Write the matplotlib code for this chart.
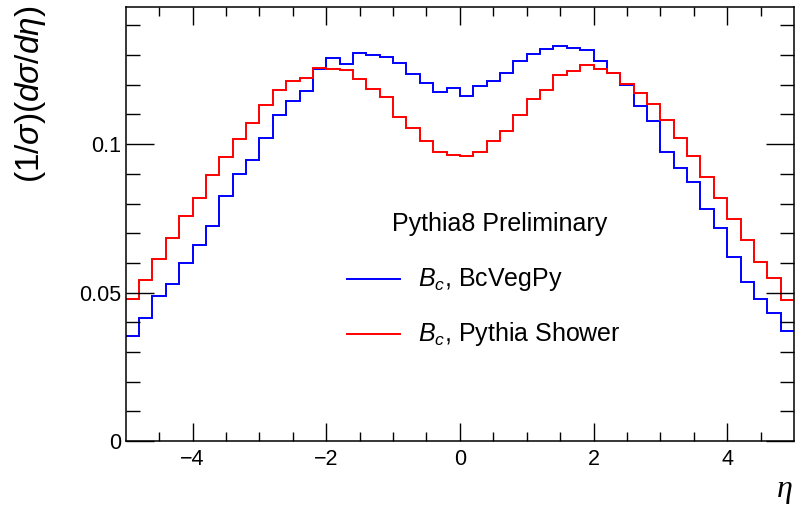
import numpy as np
import matplotlib
matplotlib.use("Agg")
import matplotlib.pyplot as plt

plt.rcParams['font.family'] = ['Liberation Sans', 'DejaVu Sans']
plt.rcParams['mathtext.fontset'] = 'custom'
plt.rcParams['mathtext.rm'] = 'Liberation Sans'
plt.rcParams['mathtext.it'] = 'Liberation Sans:italic'
plt.rcParams['mathtext.bf'] = 'Liberation Sans:bold'

# Binning: 50 bins of width 0.2 from -5 to 5
eta_min, eta_max, n_bins = -5.0, 5.0, 50
eta_edges = np.linspace(eta_min, eta_max, n_bins + 1)

bcvegpy = [0.0355, 0.0414, 0.0488, 0.0528, 0.0600, 0.0662, 0.0725, 0.0825, 0.0901, 0.0946,
           0.1021, 0.1097, 0.1144, 0.1179, 0.1252, 0.1289, 0.1271, 0.1307, 0.1302, 0.1293,
           0.1274, 0.1237, 0.1207, 0.1177, 0.1190, 0.1163, 0.1197, 0.1213, 0.1241, 0.1279,
           0.1303, 0.1319, 0.1332, 0.1325, 0.1318, 0.1281, 0.1240, 0.1199, 0.1129, 0.1078,
           0.0973, 0.0919, 0.0872, 0.0780, 0.0717, 0.0619, 0.0537, 0.0477, 0.0432, 0.0369]

pythia_shower = [0.0479, 0.0544, 0.0614, 0.0683, 0.0759, 0.0820, 0.0897, 0.0958, 0.1018, 0.1071,
                 0.1131, 0.1181, 0.1213, 0.1223, 0.1256, 0.1254, 0.1249, 0.1218, 0.1186, 0.1158,
                 0.1090, 0.1054, 0.1012, 0.0975, 0.0962, 0.0960, 0.0975, 0.1009, 0.1046, 0.1099,
                 0.1151, 0.1181, 0.1232, 0.1248, 0.1266, 0.1252, 0.1240, 0.1203, 0.1173, 0.1134,
                 0.1080, 0.1021, 0.0959, 0.0889, 0.0820, 0.0748, 0.0678, 0.0602, 0.0548, 0.0476]

series_labels = [r'$B_c$, BcVegPy', r'$B_c$, Pythia Shower']
series_colors = ['#0000ff', '#ff0000']

x_major = [-4, -2, 0, 2, 4]
x_major_labels = ['\u22124', '\u22122', '0', '2', '4']
y_major = [0.0, 0.05, 0.1]
y_major_labels = ['0', '0.05', '0.1']

fig = plt.figure(figsize=(7.96, 5.05), dpi=100)
ax = fig.add_axes([0.158, 0.1267, 0.8395, 0.8588])

for vals, col in zip([bcvegpy, pythia_shower], series_colors):
    ax.stairs(vals, eta_edges, color=col, linewidth=1.4, baseline=None)

ax.set_xlim(eta_min, eta_max)
ax.set_ylim(0, 0.1461)

ax.set_xticks(x_major)
ax.set_xticklabels(x_major_labels)
ax.set_xticks(np.arange(-4.5, 5.0, 0.5), minor=True)
ax.set_yticks(y_major)
ax.set_yticklabels(y_major_labels)
ax.set_yticks(np.arange(0.0, 0.146, 0.01), minor=True)

ax.tick_params(axis='both', which='both', direction='in', top=True, right=True,
               labelsize=15.5, width=1.0, colors='black')
ax.tick_params(axis='x', which='major', length=13, pad=6)
ax.tick_params(axis='x', which='minor', length=6.5)
ax.tick_params(axis='y', which='major', length=20, pad=3)
ax.tick_params(axis='y', which='minor', length=10)
for s in ax.spines.values():
    s.set_linewidth(1.1)

ax.set_ylabel(r'$(1/\sigma)(d\sigma/d\eta)$', fontsize=24, loc='top')
ax.yaxis.set_label_coords(-0.116, 1.005)
ax.set_xlabel('\u03b7', fontsize=23, loc='right', family='Liberation Serif', style='italic')
ax.xaxis.set_label_coords(0.998, -0.078)

ax.text(0.560, 0.500, 'Pythia8 Preliminary', transform=ax.transAxes,
        ha='center', va='center', fontsize=18)

leg_y = [0.3735, 0.2467]
for lab, col, yy in zip(series_labels, series_colors, leg_y):
    ax.plot([0.331, 0.410], [yy, yy], transform=ax.transAxes, color=col, linewidth=1.4)
    ax.text(0.4375, yy, lab, transform=ax.transAxes, ha='left', va='center', fontsize=18)

fig.savefig('out.png', dpi=100)
